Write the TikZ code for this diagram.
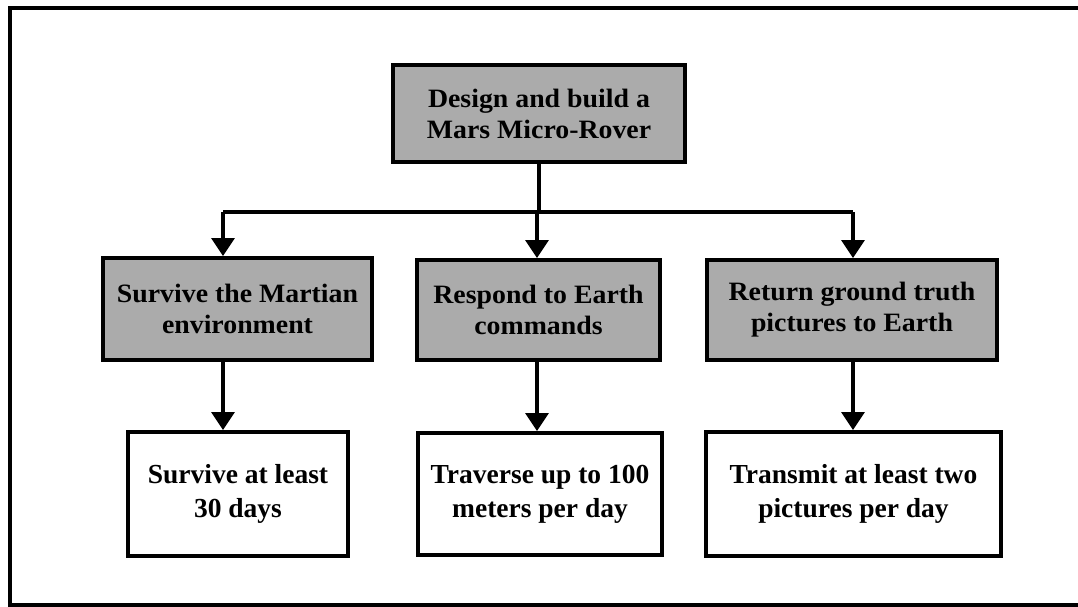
\documentclass[tikz,border=0pt]{standalone}
\usepackage{fontspec}
\setmainfont{Liberation Serif}
\newfontfamily\goalfont[FakeStretch=1.05]{Liberation Serif}
\usetikzlibrary{arrows.meta}
\begin{document}
\begin{tikzpicture}[x=1pt,y=-1pt,
  frame/.style={line width=4pt},
  goalbox/.style={draw, line width=4pt, fill=black!33, align=center,
    font=\goalfont\fontsize{26.5}{31}\selectfont\bfseries, inner sep=0pt},
  reqbox/.style={draw, line width=4pt, fill=white, align=center,
    font=\fontsize{27.5}{34}\selectfont\bfseries, inner sep=0pt},
  conn/.style={line width=3.5pt},
  arr/.style={line width=3.5pt, -{Triangle[width=23pt,length=18pt]}}]
\useasboundingbox (0,0) rectangle (1078,607);

% outer frame (open on the right)
\draw[frame] (1090,8) -- (10,8) -- (10,605) -- (1090,605);

% top-level goal
\node[goalbox, minimum width=292pt, minimum height=97pt] (top) at (539,113.5)
  {Design and build a\\Mars Micro-Rover};

% second level
\node[goalbox, minimum width=269pt, minimum height=102pt] (mA) at (237.5,309)
  {Survive the Martian\\environment};
\node[goalbox, minimum width=243pt, minimum height=100pt] (mB) at (538.5,310)
  {Respond to Earth\\commands};
\node[goalbox, minimum width=290pt, minimum height=100pt] (mC) at (852,310)
  {Return ground truth\\pictures to Earth};

% requirements
\node[reqbox, minimum width=220pt, minimum height=124pt] (dA) at (238,494)
  {Survive at least\\30 days};
\node[reqbox, minimum width=244pt, minimum height=122pt] (dB) at (540,494)
  {Traverse up to 100\\meters per day};
\node[reqbox, minimum width=295pt, minimum height=124pt] (dC) at (853.5,494)
  {Transmit at least two\\pictures per day};

% branching connectors
\coordinate (hub) at (539,212);
\coordinate (cA) at (223,212);
\coordinate (cB) at (537,212);
\coordinate (cC) at (853,212);
\draw[conn] (top.south) -- (hub);
\draw[conn] (cA) -- (cC);
\draw[arr] (cA) -- (cA |- mA.north);
\draw[arr] (cB) -- (cB |- mB.north);
\draw[arr] (cC) -- (cC |- mC.north);

\draw[arr] (mA.south -| cA) -- (dA.north -| cA);
\draw[arr] (mB.south -| cB) -- (dB.north -| cB);
\draw[arr] (mC.south -| cC) -- (dC.north -| cC);
\end{tikzpicture}
\end{document}
